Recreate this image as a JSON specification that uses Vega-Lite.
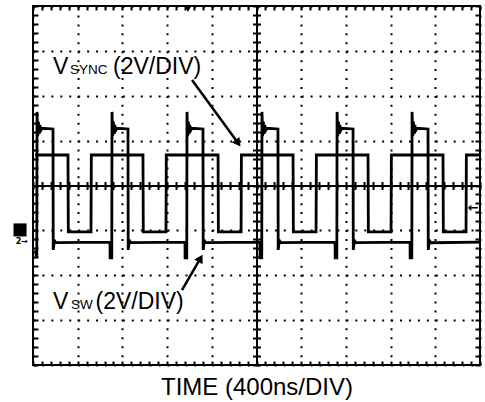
{
  "$schema": "https://vega.github.io/schema/vega-lite/v6.json",
  "width": 447,
  "height": 359,
  "autosize": "none",
  "padding": {"left": 33, "top": 6, "right": 5, "bottom": 37},
  "background": "white",
  "config": {
    "view": {"stroke": "black", "strokeWidth": 2},
    "text": {"font": "Liberation Sans", "color": "black"}
  },
  "resolve": {"axis": {"x": "independent", "y": "independent"}},
  "layer": [
    {
      "data": {"values": [
        {"t":20,"v":1.36,"ch":"SYNC"},{"t":313,"v":1.36,"ch":"SYNC"},{"t":316,"v":-2.07,"ch":"SYNC"},{"t":519,"v":-2.07,"ch":"SYNC"},{"t":522,"v":1.36,"ch":"SYNC"},{"t":984,"v":1.36,"ch":"SYNC"},{"t":987,"v":-2.07,"ch":"SYNC"},{"t":1190,"v":-2.07,"ch":"SYNC"},{"t":1193,"v":1.36,"ch":"SYNC"},{"t":1656,"v":1.36,"ch":"SYNC"},{"t":1659,"v":-2.07,"ch":"SYNC"},{"t":1862,"v":-2.07,"ch":"SYNC"},{"t":1865,"v":1.36,"ch":"SYNC"},{"t":2327,"v":1.36,"ch":"SYNC"},{"t":2330,"v":-2.07,"ch":"SYNC"},{"t":2533,"v":-2.07,"ch":"SYNC"},{"t":2536,"v":1.36,"ch":"SYNC"},{"t":2998,"v":1.36,"ch":"SYNC"},{"t":3001,"v":-2.07,"ch":"SYNC"},{"t":3204,"v":-2.07,"ch":"SYNC"},{"t":3207,"v":1.36,"ch":"SYNC"},{"t":3669,"v":1.36,"ch":"SYNC"},{"t":3672,"v":-2.07,"ch":"SYNC"},{"t":3875,"v":-2.07,"ch":"SYNC"},{"t":3878,"v":1.36,"ch":"SYNC"},{"t":3996,"v":1.36,"ch":"SYNC"},
        {"t":20,"v":-2.9,"ch":"SW"},{"t":34,"v":-3.23,"ch":"SW"},
        {"t":36,"v":3.28,"ch":"SW"},{"t":42,"v":2.2,"ch":"SW"},{"t":48,"v":2.85,"ch":"SW"},{"t":54,"v":2.3,"ch":"SW"},{"t":61,"v":2.7,"ch":"SW"},{"t":69,"v":2.45,"ch":"SW"},{"t":81,"v":2.55,"ch":"SW"},{"t":179,"v":2.52,"ch":"SW"},{"t":181,"v":-2.87,"ch":"SW"},{"t":191,"v":-2.45,"ch":"SW"},{"t":206,"v":-2.55,"ch":"SW"},
        {"t":689,"v":-2.52,"ch":"SW"},{"t":690,"v":-3.23,"ch":"SW"},{"t":705,"v":-3.23,"ch":"SW"},{"t":707,"v":3.28,"ch":"SW"},{"t":713,"v":2.2,"ch":"SW"},{"t":719,"v":2.85,"ch":"SW"},{"t":725,"v":2.3,"ch":"SW"},{"t":732,"v":2.7,"ch":"SW"},{"t":740,"v":2.45,"ch":"SW"},{"t":752,"v":2.55,"ch":"SW"},{"t":850,"v":2.52,"ch":"SW"},{"t":852,"v":-2.87,"ch":"SW"},{"t":862,"v":-2.45,"ch":"SW"},{"t":877,"v":-2.55,"ch":"SW"},
        {"t":1360,"v":-2.52,"ch":"SW"},{"t":1361,"v":-3.23,"ch":"SW"},{"t":1376,"v":-3.23,"ch":"SW"},{"t":1378,"v":3.28,"ch":"SW"},{"t":1384,"v":2.2,"ch":"SW"},{"t":1390,"v":2.85,"ch":"SW"},{"t":1396,"v":2.3,"ch":"SW"},{"t":1403,"v":2.7,"ch":"SW"},{"t":1411,"v":2.45,"ch":"SW"},{"t":1423,"v":2.55,"ch":"SW"},{"t":1521,"v":2.52,"ch":"SW"},{"t":1523,"v":-2.87,"ch":"SW"},{"t":1533,"v":-2.45,"ch":"SW"},{"t":1548,"v":-2.55,"ch":"SW"},
        {"t":2031,"v":-2.52,"ch":"SW"},{"t":2032,"v":-3.23,"ch":"SW"},{"t":2047,"v":-3.23,"ch":"SW"},{"t":2049,"v":3.28,"ch":"SW"},{"t":2055,"v":2.2,"ch":"SW"},{"t":2061,"v":2.85,"ch":"SW"},{"t":2067,"v":2.3,"ch":"SW"},{"t":2074,"v":2.7,"ch":"SW"},{"t":2082,"v":2.45,"ch":"SW"},{"t":2094,"v":2.55,"ch":"SW"},{"t":2192,"v":2.52,"ch":"SW"},{"t":2194,"v":-2.87,"ch":"SW"},{"t":2204,"v":-2.45,"ch":"SW"},{"t":2219,"v":-2.55,"ch":"SW"},
        {"t":2703,"v":-2.52,"ch":"SW"},{"t":2704,"v":-3.23,"ch":"SW"},{"t":2719,"v":-3.23,"ch":"SW"},{"t":2721,"v":3.28,"ch":"SW"},{"t":2727,"v":2.2,"ch":"SW"},{"t":2733,"v":2.85,"ch":"SW"},{"t":2739,"v":2.3,"ch":"SW"},{"t":2746,"v":2.7,"ch":"SW"},{"t":2754,"v":2.45,"ch":"SW"},{"t":2766,"v":2.55,"ch":"SW"},{"t":2864,"v":2.52,"ch":"SW"},{"t":2866,"v":-2.87,"ch":"SW"},{"t":2876,"v":-2.45,"ch":"SW"},{"t":2891,"v":-2.55,"ch":"SW"},
        {"t":3374,"v":-2.52,"ch":"SW"},{"t":3375,"v":-3.23,"ch":"SW"},{"t":3390,"v":-3.23,"ch":"SW"},{"t":3392,"v":3.28,"ch":"SW"},{"t":3398,"v":2.2,"ch":"SW"},{"t":3404,"v":2.85,"ch":"SW"},{"t":3410,"v":2.3,"ch":"SW"},{"t":3417,"v":2.7,"ch":"SW"},{"t":3425,"v":2.45,"ch":"SW"},{"t":3437,"v":2.55,"ch":"SW"},{"t":3535,"v":2.52,"ch":"SW"},{"t":3537,"v":-2.87,"ch":"SW"},{"t":3547,"v":-2.45,"ch":"SW"},{"t":3562,"v":-2.55,"ch":"SW"},
        {"t":3996,"v":-2.52,"ch":"SW"}
      ]},
      "mark": {"type": "line", "color": "black", "strokeWidth": 2.8, "clip": true},
      "encoding": {
        "x": {"field": "t", "type": "quantitative", "scale": {"domain": [0, 4000], "nice": false, "zero": false},
          "axis": {"orient": "bottom", "ticks": false, "labels": false, "domain": false, "values": [0,400,800,1200,1600,2000,2400,2800,3200,3600,4000], "grid": true, "gridColor": "black", "gridOpacity": 1, "gridDash": [2, 6.94], "gridWidth": 2,
            "title": "TIME (400ns/DIV)", "titleFont": "Liberation Sans", "titleFontSize": 24, "titleFontWeight": "normal", "titleColor": "black", "titlePadding": 10}},
        "y": {"field": "v", "type": "quantitative", "scale": {"domain": [-8, 8], "nice": false, "zero": false},
          "axis": {"orient": "left", "ticks": false, "labels": false, "domain": false, "values": [-8,-6,-4,-2,0,2,4,6,8], "grid": true, "gridColor": "black", "gridOpacity": 1, "gridDash": [2, 6.94], "gridWidth": 2, "title": null}},
        "detail": {"field": "ch"}
      }
    },
    {
      "data": {"values": [{}]},
      "mark": {"type": "text", "text": "V", "fontSize": 23, "align": "left", "baseline": "alphabetic"},
      "encoding": {
        "x": {"datum": 179, "type": "quantitative", "scale": {"domain": [0, 4000], "nice": false, "zero": false},
          "axis": {"orient": "top", "ticks": false, "labels": false, "domain": false, "grid": true, "gridColor": "black", "gridOpacity": 1, "gridWidth": 2, "gridDash": [4, 171.5, 8, 171.5, 4, 100], "title": null, "values": [0,80,160,240,320,400,480,560,640,720,800,880,960,1040,1120,1200,1280,1360,1440,1520,1600,1680,1760,1840,1920,2000,2080,2160,2240,2320,2400,2480,2560,2640,2720,2800,2880,2960,3040,3120,3200,3280,3360,3440,3520,3600,3680,3760,3840,3920,4000]}},
        "y": {"datum": 4.97, "type": "quantitative", "scale": {"domain": [-8, 8], "nice": false, "zero": false},
          "axis": {"orient": "right", "ticks": false, "labels": false, "domain": false, "grid": true, "gridColor": "black", "gridOpacity": 1, "gridWidth": 2, "gridDash": [5, 214.5, 8, 214.5, 5, 100], "title": null, "values": [-8,-7.6,-7.2,-6.8,-6.4,-6,-5.6,-5.2,-4.8,-4.4,-4,-3.6,-3.2,-2.8,-2.4,-2,-1.6,-1.2,-0.8,-0.4,0,0.4,0.8,1.2,1.6,2,2.4,2.8,3.2,3.6,4,4.4,4.8,5.2,5.6,6,6.4,6.8,7.2,7.6,8]}}
      }
    },
    {
      "data": {"values": [{}]},
      "mark": {"type": "text", "text": "SYNC", "fontSize": 13.5, "align": "left", "baseline": "alphabetic"},
      "encoding": {
        "x": {"datum": 331, "type": "quantitative", "scale": {"domain": [0, 4000], "nice": false, "zero": false},
          "axis": {"orient": "bottom", "offset": -179.5, "domain": true, "domainColor": "black", "domainWidth": 2, "ticks": false, "labels": false, "grid": false, "title": null, "values": [0, 4000]}},
        "y": {"datum": 4.97, "type": "quantitative", "scale": {"domain": [-8, 8], "nice": false, "zero": false},
          "axis": {"orient": "left", "offset": -223.5, "domain": true, "domainColor": "black", "domainWidth": 2, "ticks": false, "labels": false, "grid": false, "title": null, "values": [-8, 8]}}
      }
    },
    {
      "data": {"values": [{}]},
      "mark": {"type": "text", "text": "(2V/DIV)", "fontSize": 23, "align": "left", "baseline": "alphabetic"},
      "encoding": {
        "x": {"datum": 716, "type": "quantitative", "scale": {"domain": [0, 4000], "nice": false, "zero": false}, "axis": null},
        "y": {"datum": 4.97, "type": "quantitative", "scale": {"domain": [-8, 8], "nice": false, "zero": false}, "axis": null}
      }
    },
    {
      "data": {"values": [{}]},
      "mark": {"type": "text", "text": "V", "fontSize": 23, "align": "left", "baseline": "alphabetic"},
      "encoding": {
        "x": {"datum": 179, "type": "quantitative", "scale": {"domain": [0, 4000], "nice": false, "zero": false}, "axis": null},
        "y": {"datum": -5.5, "type": "quantitative", "scale": {"domain": [-8, 8], "nice": false, "zero": false}, "axis": null}
      }
    },
    {
      "data": {"values": [{}]},
      "mark": {"type": "text", "text": "SW", "fontSize": 13.5, "align": "left", "baseline": "alphabetic"},
      "encoding": {
        "x": {"datum": 340, "type": "quantitative", "scale": {"domain": [0, 4000], "nice": false, "zero": false}, "axis": null},
        "y": {"datum": -5.5, "type": "quantitative", "scale": {"domain": [-8, 8], "nice": false, "zero": false}, "axis": null}
      }
    },
    {
      "data": {"values": [{}]},
      "mark": {"type": "text", "text": "(2V/DIV)", "fontSize": 23, "align": "left", "baseline": "alphabetic"},
      "encoding": {
        "x": {"datum": 560, "type": "quantitative", "scale": {"domain": [0, 4000], "nice": false, "zero": false}, "axis": null},
        "y": {"datum": -5.5, "type": "quantitative", "scale": {"domain": [-8, 8], "nice": false, "zero": false}, "axis": null}
      }
    },
    {
      "data": {"values": [{}]},
      "mark": {"type": "rule", "color": "black", "strokeWidth": 2.5},
      "encoding": {
        "x": {"datum": 1423, "type": "quantitative", "scale": {"domain": [0, 4000], "nice": false, "zero": false}, "axis": null},
        "y": {"datum": 4.70, "type": "quantitative", "scale": {"domain": [-8, 8], "nice": false, "zero": false}, "axis": null},
        "x2": {"datum": 1835},
        "y2": {"datum": 1.89}
      }
    },
    {
      "data": {"values": [{}]},
      "mark": {"type": "point", "shape": "triangle-up", "filled": true, "color": "black", "opacity": 1, "size": 90, "angle": 144},
      "encoding": {
        "x": {"datum": 1835, "type": "quantitative", "scale": {"domain": [0, 4000], "nice": false, "zero": false}, "axis": null},
        "y": {"datum": 1.89, "type": "quantitative", "scale": {"domain": [-8, 8], "nice": false, "zero": false}, "axis": null}
      }
    },
    {
      "data": {"values": [{}]},
      "mark": {"type": "rule", "color": "black", "strokeWidth": 2.5},
      "encoding": {
        "x": {"datum": 1333, "type": "quantitative", "scale": {"domain": [0, 4000], "nice": false, "zero": false}, "axis": null},
        "y": {"datum": -4.66, "type": "quantitative", "scale": {"domain": [-8, 8], "nice": false, "zero": false}, "axis": null},
        "x2": {"datum": 1499},
        "y2": {"datum": -3.24}
      }
    },
    {
      "data": {"values": [{}]},
      "mark": {"type": "point", "shape": "triangle-up", "filled": true, "color": "black", "opacity": 1, "size": 90, "angle": 30},
      "encoding": {
        "x": {"datum": 1499, "type": "quantitative", "scale": {"domain": [0, 4000], "nice": false, "zero": false}, "axis": null},
        "y": {"datum": -3.24, "type": "quantitative", "scale": {"domain": [-8, 8], "nice": false, "zero": false}, "axis": null}
      }
    },
    {
      "data": {"values": [{}]},
      "mark": {"type": "point", "shape": "square", "filled": true, "color": "black", "opacity": 1, "size": 170, "clip": false},
      "encoding": {
        "x": {"datum": -116, "type": "quantitative", "scale": {"domain": [0, 4000], "nice": false, "zero": false}, "axis": null},
        "y": {"datum": -1.98, "type": "quantitative", "scale": {"domain": [-8, 8], "nice": false, "zero": false}, "axis": null}
      }
    },
    {
      "data": {"values": [{}]},
      "mark": {"type": "text", "text": "2→", "fontSize": 8, "font": "DejaVu Sans", "fontWeight": "bold", "align": "center", "baseline": "middle", "clip": false},
      "encoding": {
        "x": {"datum": -100, "type": "quantitative", "scale": {"domain": [0, 4000], "nice": false, "zero": false}, "axis": null},
        "y": {"datum": -2.5, "type": "quantitative", "scale": {"domain": [-8, 8], "nice": false, "zero": false}, "axis": null}
      }
    },
    {
      "data": {"values": [{}]},
      "mark": {"type": "text", "text": "←", "fontSize": 13, "font": "DejaVu Sans", "fontWeight": "bold", "align": "center", "baseline": "middle"},
      "encoding": {
        "x": {"datum": 3940, "type": "quantitative", "scale": {"domain": [0, 4000], "nice": false, "zero": false}, "axis": null},
        "y": {"datum": -1.0, "type": "quantitative", "scale": {"domain": [-8, 8], "nice": false, "zero": false}, "axis": null}
      }
    },
    {
      "data": {"values": [{}]},
      "mark": {"type": "point", "shape": "triangle-down", "filled": true, "color": "black", "opacity": 1, "size": 35},
      "encoding": {
        "x": {"datum": 1387, "type": "quantitative", "scale": {"domain": [0, 4000], "nice": false, "zero": false}, "axis": null},
        "y": {"datum": 7.85, "type": "quantitative", "scale": {"domain": [-8, 8], "nice": false, "zero": false}, "axis": null}
      }
    }
  ]
}
